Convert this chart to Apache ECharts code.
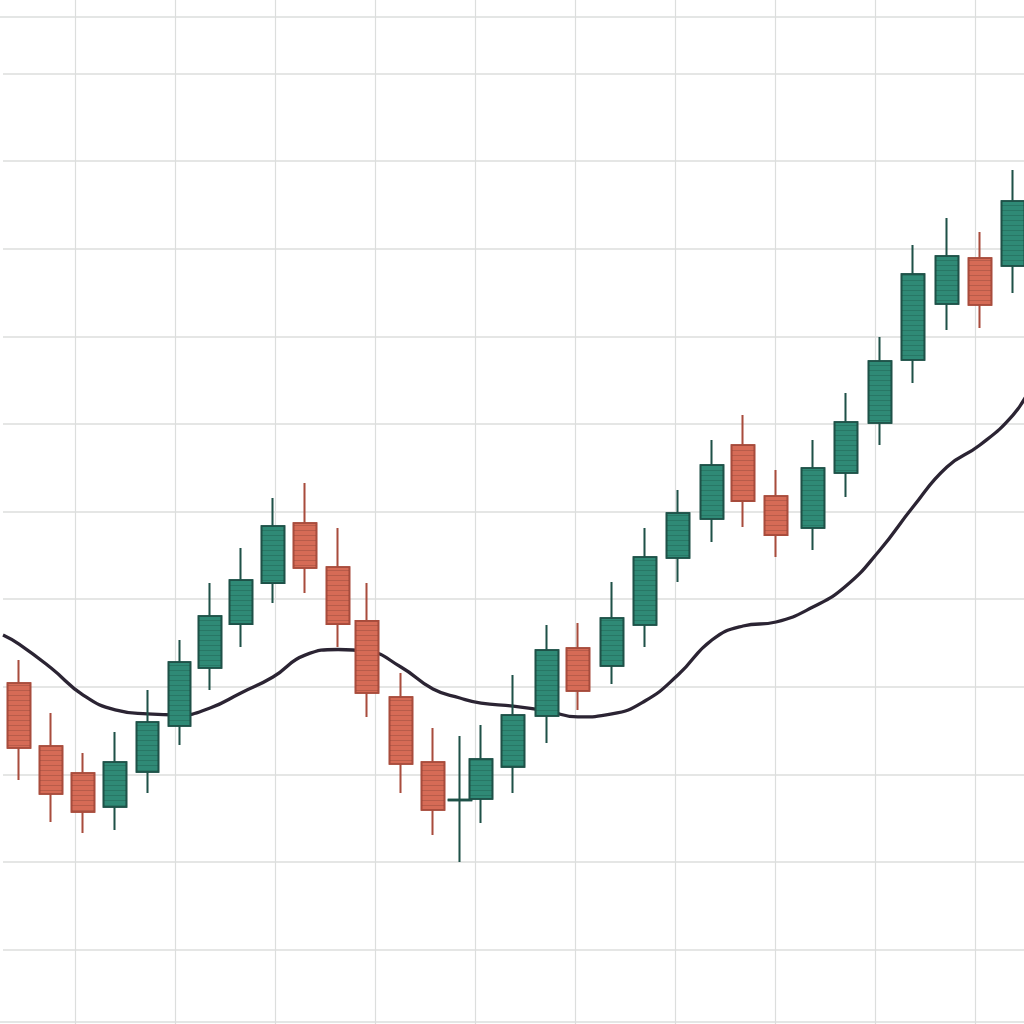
<!DOCTYPE html>
<html>
<head>
<meta charset="utf-8">
<script src="https://cdn.jsdelivr.net/npm/echarts@6/dist/echarts.min.js"></script>
<style>
  html, body { margin: 0; padding: 0; background: #ffffff; }
  #chart { width: 1024px; height: 1024px; }
</style>
</head>
<body>
<div id="chart"></div>
<script>
// Session time of each candle (in sessions; spacing is slightly uneven)
const sessionTimes = [0.0, 1.0, 2.0, 3.0, 4.0, 5.0, 5.96, 6.92, 7.92, 8.92, 9.95, 10.85, 11.91, 12.91, 13.75, 14.41,
                      15.41, 16.47, 17.43, 18.49, 19.52, 20.55, 21.61, 22.58, 23.61, 24.76, 25.79, 26.85, 27.88, 28.94, 29.97, 31.0];
// OHLC values
const openValues  = [95.22, 91.62, 90.08, 88.14, 90.14, 92.76, 96.07, 98.58, 100.92, 104.35, 101.84, 98.76, 94.42, 90.71, 88.52, 88.60,
                     90.42, 93.33, 97.21, 96.19, 98.53, 102.35, 104.58, 108.80, 105.89, 104.06, 107.20, 110.06, 113.65, 116.85, 119.47, 119.02];
const closeValues = [91.51, 88.88, 87.85, 90.71, 92.99, 96.41, 99.04, 101.10, 104.18, 101.78, 98.58, 94.65, 90.59, 87.97, 88.56, 90.88,
                     93.39, 97.10, 94.76, 98.93, 102.41, 104.92, 107.66, 105.60, 103.66, 107.49, 110.11, 113.60, 118.56, 119.59, 116.79, 122.73];
const lowValues   = [89.68, 87.28, 86.65, 86.83, 88.94, 91.68, 94.82, 97.27, 99.78, 100.35, 97.27, 93.28, 88.94, 86.54, 85.00, 87.23,
                     88.94, 91.79, 93.68, 95.16, 97.27, 100.98, 103.26, 104.12, 102.41, 102.81, 105.83, 108.80, 112.34, 115.36, 115.48, 117.48];
const highValues  = [96.53, 93.50, 91.22, 92.42, 94.82, 97.67, 100.92, 102.92, 105.78, 106.63, 104.06, 100.92, 95.79, 92.65, 92.19, 92.82,
                     95.67, 98.53, 98.64, 100.98, 104.06, 106.23, 109.09, 110.51, 107.37, 109.09, 111.77, 114.97, 120.22, 121.76, 120.96, 124.50];
// Smoothed moving-average line (session time, value)
const maTimes  = [-0.5, 0.0, 1.0, 2.0, 3.0, 4.0, 5.0, 5.96, 6.92, 7.92, 8.92, 9.95, 10.85, 11.91, 12.91, 13.75, 14.41,
                  15.41, 16.47, 17.43, 18.49, 19.52, 20.55, 21.61, 22.58, 23.61, 24.76, 25.79, 26.85, 27.88, 28.94, 29.97, 31.0, 31.5];
const maValues = [97.96, 97.44, 96.07, 94.53, 93.68, 93.45, 93.39, 93.79, 94.65, 95.56, 96.81, 97.13, 97.04, 96.13, 94.87, 94.36, 94.07,
                  93.90, 93.62, 93.28, 93.45, 94.19, 95.67, 97.67, 98.47, 98.70, 99.55, 100.75, 102.81, 105.26, 107.55, 108.80, 110.51, 111.94];

const candleData = sessionTimes.map((t, i) => [t, openValues[i], closeValues[i], lowValues[i], highValues[i]]);
const maData = maTimes.map((t, i) => [t, maValues[i]]);

const gridColor = '#dcdedd';
const hidden = { show: false };

const chart = echarts.init(document.getElementById('chart'), null, { renderer: 'canvas' });
chart.setOption({
  animation: false,
  backgroundColor: '#ffffff',
  grid: [
    { left: 3, top: -14, width: 1026, height: 1051.2, outerBoundsMode: 'none', containLabel: false },
    { left: -24.4, top: 0, width: 1100, height: 1024, outerBoundsMode: 'none', containLabel: false },
    { left: -5, top: 17, width: 1034, height: 1005, outerBoundsMode: 'none', containLabel: false,
      show: true, borderColor: gridColor, borderWidth: 1.5, backgroundColor: 'transparent' }
  ],
  xAxis: [
    { type: 'value', gridIndex: 0, min: -0.5, max: 31.5,
      axisLine: hidden, axisTick: hidden, axisLabel: hidden, splitLine: hidden },
    { type: 'value', gridIndex: 1, min: 0, max: 1100, interval: 100,
      axisLine: hidden, axisTick: hidden, axisLabel: hidden,
      splitLine: { show: true, lineStyle: { color: gridColor, width: 1.2 } } },
    { type: 'value', gridIndex: 2, min: 0, max: 1,
      axisLine: hidden, axisTick: hidden, axisLabel: hidden, splitLine: hidden }
  ],
  yAxis: [
    { type: 'value', gridIndex: 0, min: 75, max: 135, interval: 5,
      axisLine: hidden, axisTick: hidden, axisLabel: hidden,
      splitLine: { show: true, lineStyle: { color: gridColor, width: 1.5 } } },
    { type: 'value', gridIndex: 1, min: 0, max: 1,
      axisLine: hidden, axisTick: hidden, axisLabel: hidden, splitLine: hidden },
    { type: 'value', gridIndex: 2, min: 0, max: 1,
      axisLine: hidden, axisTick: hidden, axisLabel: hidden, splitLine: hidden }
  ],
  series: [
    {
      type: 'line',
      xAxisIndex: 0, yAxisIndex: 0,
      data: maData,
      smooth: true,
      showSymbol: false,
      z: 1,
      lineStyle: { color: '#2b2433', width: 3.3 }
    },
    {
      type: 'candlestick',
      xAxisIndex: 0, yAxisIndex: 0,
      data: candleData,
      encode: { x: 0, y: [1, 2, 3, 4] },
      barWidth: 23,
      z: 3,
      itemStyle: {
        color: '#2f8a76',
        color0: '#d66b56',
        borderColor: '#1e5148',
        borderColor0: '#a84c3c',
        borderColorDoji: '#1e5148',
        borderWidth: 1.6,
        decal: {
          symbol: 'rect', symbolSize: 1, rotation: 0,
          dashArrayX: [1, 0], dashArrayY: [1, 4],
          color: 'rgba(0,0,0,0.14)'
        }
      }
    }
  ]
});
</script>
</body>
</html>
